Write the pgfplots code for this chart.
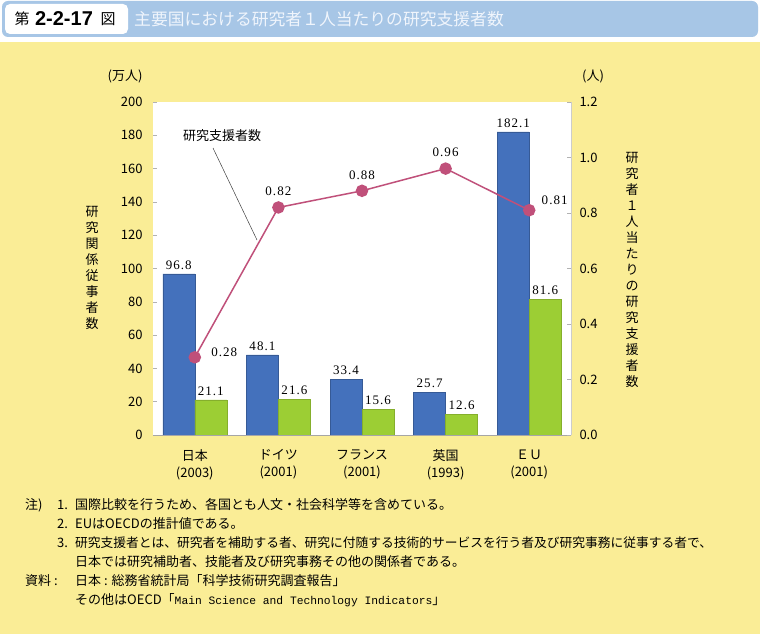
\documentclass[border=0pt]{standalone}
\usepackage{fontspec}
\usepackage{pgfplots}
\pgfplotsset{compat=1.18}
\usepackage{pgfplotstable}
\setmainfont{Noto Sans CJK JP}
\newfontfamily\serifnum[LetterSpace=8]{Liberation Serif}
\newfontfamily\monofont{Liberation Mono}
\newfontfamily\headnum{Liberation Sans}
\definecolor{bgyellow}{RGB}{250,237,150}
\definecolor{barblue}{RGB}{68,113,188}
\definecolor{bargreen}{RGB}{156,206,52}
\definecolor{linec}{RGB}{192,80,122}
\definecolor{titleblue}{RGB}{167,198,230}
\definecolor{titletext}{RGB}{240,245,252}

\pgfplotstableread{
x res sup
0 96.8 21.1
1 48.1 21.6
2 33.4 15.6
3 25.7 12.6
4 182.1 81.6
}\bardata

\pgfplotstableread{
x y
0 0.28
1 0.82
2 0.88
3 0.96
4 0.81
}\linedata

\newcommand{\fs}[1]{\fontsize{#1bp}{#1bp}\selectfont}

\begin{document}
\begin{tikzpicture}[x=1bp,y=1bp]
% backgrounds
\fill[white] (0,0) rectangle (760,-634);
\fill[bgyellow] (0,-42) rectangle (760,-634);
\fill[titleblue, rounded corners=6bp] (2,-1) rectangle (758,-37);
\fill[white, rounded corners=5bp] (5,-4) rectangle (128,-34);
\node[inner sep=0, anchor=center] at (22,-19) {\fs{15}第};
\node[inner sep=0, anchor=center] at (64,-19) {\headnum\bfseries\fs{20}2-2-17};
\node[inner sep=0, anchor=center] at (108,-19) {\fs{15}図};
\node[inner sep=0, anchor=west, text=titletext] at (134,-19) {\fs{16.8}主要国における研究者１人当たりの研究支援者数};

% units and axis titles
\node[inner sep=0] at (125,-76) {\fs{13}(万人)};
\node[inner sep=0] at (593,-76) {\fs{13}(人)};
\node[inner sep=0, align=center, font=\fontsize{13bp}{16bp}\selectfont] at (92,-268) {研\\究\\関\\係\\従\\事\\者\\数};
\node[inner sep=0, align=center, font=\fontsize{13bp}{16bp}\selectfont] at (632,-270) {研\\究\\者\\１\\人\\当\\た\\り\\の\\研\\究\\支\\援\\者\\数};

\begin{axis}[
  at={(153bp,-435bp)}, anchor=south west,
  scale only axis, width=418bp, height=333bp,
  xmin=-0.5, xmax=4.5, ymin=0, ymax=200,
  xtick={0,1,2,3,4},
  xticklabels={{日本\\(2003)},{ドイツ\\(2001)},{フランス\\(2001)},{英国\\(1993)},{ＥＵ\\(2001)}},
  xticklabel style={align=center, font=\fontsize{13bp}{17bp}\selectfont, yshift=-11bp},
  xtick pos=bottom,
  ytick={0,20,...,200}, ytick pos=left,
  yticklabel style={font=\fs{13}, xshift=-7bp},
  /pgf/number format/assume math mode=true,
  axis background/.style={fill=white},
  axis line style={draw=none},
  tick align=inside, major tick length=4bp,
  every tick/.style={gray!60, line width=0.5bp},
  clip=false,
]
\addplot[ybar, bar width=32bp, bar shift=-16bp, fill=barblue, draw=barblue!80!black, line width=0.4bp,
  point meta=explicit symbolic,
  nodes near coords={\serifnum\fs{13}\pgfplotspointmeta},
  every node near coord/.append style={anchor=south, text=black, yshift=1bp, xshift=-16bp}]
  table[x=x, y=res, meta=res]{\bardata};
\addplot[ybar, bar width=32bp, bar shift=16bp, fill=bargreen, draw=bargreen!85!black, line width=0.4bp,
  point meta=explicit symbolic,
  nodes near coords={\serifnum\fs{13}\pgfplotspointmeta},
  every node near coord/.append style={anchor=south, text=black, yshift=1bp, xshift=16bp}]
  table[x=x, y=sup, meta=sup]{\bardata};
\draw[gray!70, line width=0.6bp] (rel axis cs:0,0) -- (rel axis cs:1,0);
\draw[gray!40, line width=0.8bp] (rel axis cs:1,0) -- (rel axis cs:1,1);
\end{axis}

\begin{axis}[
  at={(153bp,-435bp)}, anchor=south west,
  scale only axis, width=418bp, height=333bp,
  xmin=-0.5, xmax=4.5, ymin=0, ymax=1.2,
  hide x axis,
  ytick={0,0.2,0.4,0.6,0.8,1.0,1.2}, ytick pos=right, yticklabel pos=right,
  yticklabel style={font=\fs{13}, xshift=5bp, /pgf/number format/fixed, /pgf/number format/fixed zerofill, /pgf/number format/precision=1},
  /pgf/number format/assume math mode=true,
  axis line style={draw=none},
  tick align=inside, major tick length=4bp,
  every tick/.style={gray!60, line width=0.5bp},
  clip=false,
]
\addplot[color=linec, line width=1.5bp, mark=*, mark size=5.5bp,
  mark options={fill=linec, draw=linec}]
  table[x=x, y=y]{\linedata};
% labels of the line
\addplot[draw=none, mark=none, point meta=explicit symbolic,
  nodes near coords={\serifnum\fs{13}\pgfplotspointmeta},
  every node near coord/.append style={anchor=west, text=black, xshift=13bp, yshift=5bp}]
  table[x=x, y=y, meta=y]{
x y
0 0.28
};
\addplot[draw=none, mark=none, point meta=explicit symbolic,
  nodes near coords={\serifnum\fs{13}\pgfplotspointmeta},
  every node near coord/.append style={anchor=south, text=black, yshift=8bp}]
  table[x=x, y=y, meta=y]{
x y
1 0.82
2 0.88
3 0.96
};
\addplot[draw=none, mark=none, point meta=explicit symbolic,
  nodes near coords={\serifnum\fs{13}\pgfplotspointmeta},
  every node near coord/.append style={anchor=west, text=black, xshift=9bp, yshift=10bp}]
  table[x=x, y=y, meta=y]{
x y
4 0.81
};
\end{axis}

% annotation
\node[inner sep=0] at (222,-136) {\fs{13}研究支援者数};
\draw[black!75, line width=0.5bp] (213,-148) -- (257,-240);

% notes
\begin{scope}[every node/.style={inner sep=0, anchor=west, font=\fs{13}}]
\node at (25,-505) {注)};
\node at (57,-505) {1.};
\node at (75,-505) {国際比較を行うため、各国とも人文・社会科学等を含めている。};
\node at (57,-524) {2.};
\node at (75,-524) {EUはOECDの推計値である。};
\node at (57,-543) {3.};
\node at (75,-543) {\fontsize{12.75bp}{13bp}\selectfont 研究支援者とは、研究者を補助する者、研究に付随する技術的サービスを行う者及び研究事務に従事する者で、};
\node at (75,-562) {日本では研究補助者、技能者及び研究事務その他の関係者である。};
\node at (25,-581) {資料 :};
\node at (75,-581) {日本 : 総務省統計局「科学技術研究調査報告」};
\node at (75,-600) {その他はOECD「{\monofont\fs{11.3}Main Science and Technology Indicators}」};
\end{scope}

\pgfresetboundingbox
\useasboundingbox (0,0) rectangle (760,-634);
\end{tikzpicture}
\end{document}
